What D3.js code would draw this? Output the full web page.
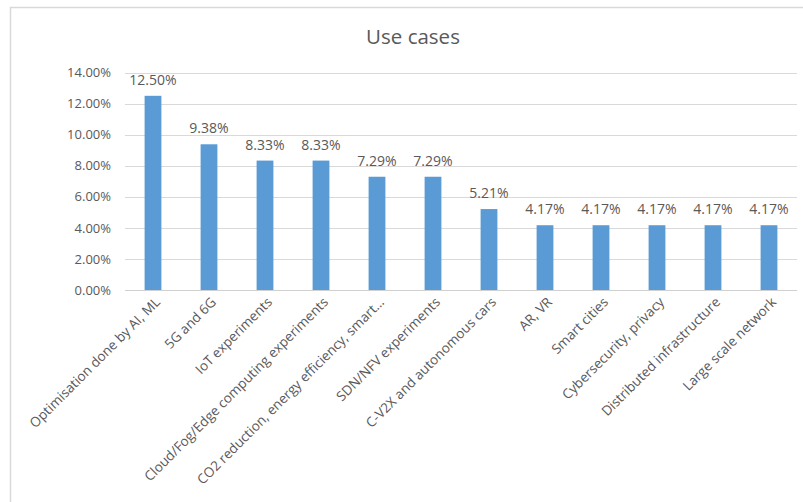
<!DOCTYPE html>
<html><head><meta charset="utf-8">
<script src="https://cdn.jsdelivr.net/npm/d3@7"></script>
<style>body{margin:0;background:#fff}svg{display:block}</style>
</head><body><svg id="c" width="803" height="502"></svg>
<script>
const categories = ["Optimisation done by AI, ML","5G and 6G","IoT experiments","Cloud/Fog/Edge computing experiments","CO2 reduction, energy efficiency, smart…","SDN/NFV experiments","C-V2X and autonomous cars","AR, VR","Smart cities","Cybersecurity, privacy","Distributed infrastructure","Large scale network"];
const values = [12.50, 9.38, 8.33, 8.33, 7.29, 7.29, 5.21, 4.17, 4.17, 4.17, 4.17, 4.17];
const yTicks = [0, 2, 4, 6, 8, 10, 12, 14];
const title = "Use cases";

const svg = d3.select("#c");
const font = "'Open Sans', 'Liberation Sans', sans-serif";
const gray = "#595959";
// frame
svg.append("path").attr("d","M10.5,502 L10.5,7.5 L803,7.5").attr("fill","none").attr("stroke","#d9d9d9").attr("stroke-width",1.5);

const x = d3.scaleBand().domain(categories).range([125, 797]).paddingInner(0.7).paddingOuter(0.35);
const y = d3.scaleLinear().domain([0, 14]).range([290, 72.5]);

// gridlines
svg.append("g").selectAll("line").data(yTicks).join("line")
  .attr("x1",125).attr("x2",797).attr("y1",d=>Math.round(y(d))+0.5).attr("y2",d=>Math.round(y(d))+0.5)
  .attr("stroke",d=>d===0?"#d0d0d0":"#d9d9d9").attr("stroke-width",1);

// y axis
const ya = svg.append("g").attr("transform","translate(111,0)")
  .call(d3.axisLeft(y).tickValues(yTicks).tickSize(0).tickPadding(0).tickFormat(d=>d.toFixed(2)+"%"));
ya.select(".domain").remove();
ya.selectAll("text").attr("fill",gray).attr("font-size","13px").attr("font-family",font);

// bars
svg.append("g").selectAll("rect").data(values).join("rect")
  .attr("x",(d,i)=>x(categories[i])).attr("width",x.bandwidth())
  .attr("y",d=>y(d)).attr("height",d=>y(0)-y(d)).attr("fill","#5b9bd5");

// data labels
svg.append("g").selectAll("text").data(values).join("text")
  .attr("x",(d,i)=>x(categories[i])+x.bandwidth()/2).attr("y",d=>y(d)-11)
  .attr("text-anchor","middle").attr("fill",gray).attr("font-size","14px").attr("font-family",font)
  .text(d=>d.toFixed(2)+"%");

// x labels
const xa = svg.append("g").attr("transform","translate(0,290)")
  .call(d3.axisBottom(x).tickSize(0).tickPadding(0));
xa.select(".domain").remove();
xa.selectAll("text").attr("fill",gray).attr("font-size","13.5px").attr("font-family",font)
  .attr("text-anchor","end").attr("dy",null).attr("y",0)
  .attr("transform","translate(8,13) rotate(-45)");

// title
svg.append("text").attr("x",413).attr("y",44).attr("text-anchor","middle")
  .attr("fill",gray).attr("font-size","20.5px").attr("font-family",font).text(title);
</script></body></html>
